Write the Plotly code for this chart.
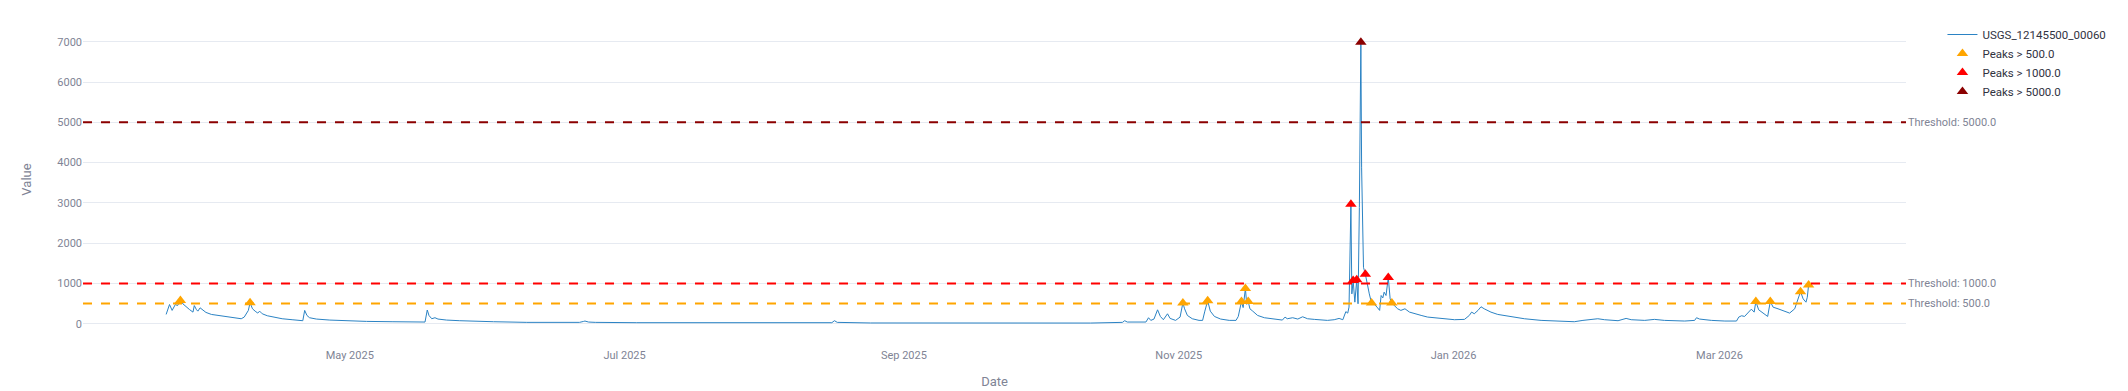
import plotly.graph_objects as go
import pandas as pd

series_name = "USGS_12145500_00060"

dates = [
    "2025-03-21 06:00", "2025-03-22 00:00", "2025-03-22 14:00", "2025-03-23 07:00", "2025-03-23 19:00",
    "2025-03-24 10:00", "2025-03-25 00:00", "2025-03-25 17:00", "2025-03-26 10:00", "2025-03-27 05:00",
    "2025-03-27 12:00", "2025-03-28 00:00", "2025-03-28 07:00", "2025-03-28 19:00", "2025-03-29 10:00",
    "2025-03-30 02:00", "2025-03-31 07:00", "2025-04-01 17:00", "2025-04-03 14:00", "2025-04-05 10:00",
    "2025-04-06 22:00", "2025-04-07 14:00", "2025-04-08 03:00", "2025-04-08 12:00", "2025-04-08 21:00",
    "2025-04-09 10:00", "2025-04-10 00:00", "2025-04-10 14:00", "2025-04-11 00:00", "2025-04-11 14:00",
    "2025-04-12 17:00", "2025-04-14 05:00", "2025-04-16 00:00", "2025-04-18 05:00", "2025-04-20 14:00",
    "2025-04-21 00:00", "2025-04-21 12:00", "2025-04-22 02:00", "2025-04-23 14:00", "2025-04-26 14:00",
    "2025-04-30 07:00", "2025-05-04 17:00", "2025-05-10 14:00", "2025-05-17 17:00", "2025-05-18 05:00",
    "2025-05-18 14:00", "2025-05-19 05:00", "2025-05-19 22:00", "2025-05-20 14:00", "2025-05-22 12:00",
    "2025-05-25 10:00", "2025-05-29 02:00", "2025-06-01 22:00", "2025-06-09 07:00", "2025-06-21 00:00",
    "2025-06-21 22:00", "2025-06-22 05:00", "2025-06-23 00:00", "2025-06-24 12:00", "2025-07-03 17:00",
    "2025-07-18 12:00", "2025-08-02 07:00", "2025-08-16 00:00", "2025-08-16 14:00", "2025-08-17 05:00",
    "2025-08-24 14:00", "2025-09-04 17:00", "2025-09-20 05:00", "2025-10-12 10:00", "2025-10-19 12:00",
    "2025-10-20 00:00", "2025-10-20 14:00", "2025-10-24 17:00", "2025-10-25 07:00", "2025-10-25 19:00",
    "2025-10-26 12:00", "2025-10-27 07:00", "2025-10-27 22:00", "2025-10-28 14:00", "2025-10-29 12:00",
    "2025-10-30 02:00", "2025-10-31 07:00", "2025-11-01 07:00", "2025-11-01 22:00", "2025-11-02 07:00",
    "2025-11-02 22:00", "2025-11-04 00:00", "2025-11-05 12:00", "2025-11-06 07:00", "2025-11-06 19:00",
    "2025-11-07 10:00", "2025-11-08 00:00", "2025-11-08 22:00", "2025-11-10 07:00", "2025-11-12 05:00",
    "2025-11-13 17:00", "2025-11-14 05:00", "2025-11-14 22:00", "2025-11-15 07:00", "2025-11-15 19:00",
    "2025-11-16 02:00", "2025-11-16 10:00", "2025-11-16 19:00", "2025-11-17 10:00", "2025-11-18 12:00",
    "2025-11-20 00:00", "2025-11-22 05:00", "2025-11-24 00:00", "2025-11-24 14:00", "2025-11-25 02:00",
    "2025-11-26 07:00", "2025-11-27 10:00", "2025-11-28 12:00", "2025-11-29 14:00", "2025-12-01 02:00",
    "2025-12-04 00:00", "2025-12-05 12:00", "2025-12-06 14:00", "2025-12-07 10:00", "2025-12-08 02:00",
    "2025-12-08 12:00", "2025-12-08 19:00", "2025-12-09 05:00", "2025-12-09 10:00", "2025-12-09 17:00",
    "2025-12-10 02:00", "2025-12-10 12:00", "2025-12-10 19:00", "2025-12-11 02:00", "2025-12-11 05:00",
    "2025-12-11 10:00", "2025-12-11 14:00", "2025-12-11 19:00", "2025-12-12 00:00", "2025-12-12 10:00",
    "2025-12-12 19:00", "2025-12-13 07:00", "2025-12-13 19:00", "2025-12-14 10:00", "2025-12-15 00:00",
    "2025-12-15 14:00", "2025-12-15 22:00", "2025-12-16 07:00", "2025-12-16 14:00", "2025-12-17 00:00",
    "2025-12-17 12:00", "2025-12-17 22:00", "2025-12-18 07:00", "2025-12-18 19:00", "2025-12-19 14:00",
    "2025-12-20 07:00", "2025-12-21 05:00", "2025-12-22 05:00", "2025-12-23 07:00", "2025-12-24 19:00",
    "2025-12-26 05:00", "2025-12-29 05:00", "2026-01-01 05:00", "2026-01-03 10:00", "2026-01-04 12:00",
    "2026-01-05 00:00", "2026-01-05 14:00", "2026-01-06 10:00", "2026-01-07 02:00", "2026-01-07 19:00",
    "2026-01-09 07:00", "2026-01-10 19:00", "2026-01-12 14:00", "2026-01-13 19:00", "2026-01-16 17:00",
    "2026-01-20 10:00", "2026-01-24 02:00", "2026-01-27 19:00", "2026-01-29 17:00", "2026-01-31 12:00",
    "2026-02-02 00:00", "2026-02-03 12:00", "2026-02-06 12:00", "2026-02-08 07:00", "2026-02-09 10:00",
    "2026-02-12 10:00", "2026-02-14 14:00", "2026-02-16 19:00", "2026-02-21 07:00", "2026-02-23 12:00",
    "2026-02-23 22:00", "2026-02-24 14:00", "2026-02-27 05:00", "2026-03-02 05:00", "2026-03-04 19:00",
    "2026-03-05 07:00", "2026-03-05 22:00", "2026-03-06 14:00", "2026-03-07 12:00", "2026-03-08 02:00",
    "2026-03-08 17:00", "2026-03-09 02:00", "2026-03-09 17:00", "2026-03-10 17:00", "2026-03-11 17:00",
    "2026-03-12 07:00", "2026-03-12 22:00", "2026-03-14 00:00", "2026-03-15 12:00", "2026-03-16 14:00",
    "2026-03-17 17:00", "2026-03-18 12:00", "2026-03-19 00:00", "2026-03-19 14:00", "2026-03-20 05:00",
    "2026-03-20 12:00", "2026-03-20 19:00", "2026-03-21 00:00",
]

values = [
    230, 476, 330, 476, 450,
    577, 490, 410, 353, 287,
    450, 345, 312, 394, 330,
    280, 230, 205, 180, 156,
    123, 164, 246, 330, 520,
    370, 312, 263, 312, 246,
    197, 156, 123, 99, 74,
    330, 205, 148, 115, 90,
    74, 57, 49, 41, 340,
    205, 123, 148, 115, 90,
    74, 57, 49, 33, 33,
    57, 66, 41, 33, 25,
    25, 25, 25, 74, 33,
    18, 16, 16, 16, 33,
    74, 41, 41, 148, 82,
    115, 345, 180, 99, 246,
    131, 82, 164, 515, 370,
    205, 123, 82, 82, 312,
    570, 312, 180, 115, 82,
    82, 180, 550, 400, 875,
    480, 550, 370, 312, 205,
    148, 107, 90, 164, 123,
    148, 115, 172, 123, 107,
    82, 99, 131, 99, 300,
    262, 412, 2966, 740, 1070,
    535, 1090, 495, 2885, 4285,
    6990, 3870, 2800, 1400, 1228,
    990, 740, 511, 478, 412,
    330, 700, 640, 783, 700,
    1145, 618, 511, 453, 370,
    330, 370, 288, 247, 206,
    165, 124, 99, 107, 206,
    288, 247, 330, 420, 370,
    287, 230, 197, 164, 123,
    82, 57, 49, 82, 107,
    123, 99, 74, 131, 99,
    82, 107, 82, 66, 82,
    148, 115, 82, 66, 66,
    164, 197, 180, 296, 361,
    287, 550, 345, 263, 180,
    550, 410, 370, 312, 263,
    370, 616, 796, 616, 534,
    657, 960, 940,
]

peak_dates = [
    "2025-03-24 10:00", "2025-04-08 21:00", "2025-11-01 22:00", "2025-11-07 10:00",
    "2025-11-14 22:00", "2025-11-15 19:00", "2025-11-16 10:00", "2025-12-09 05:00",
    "2025-12-09 17:00", "2025-12-10 12:00", "2025-12-11 10:00", "2025-12-12 10:00",
    "2025-12-13 19:00", "2025-12-17 12:00", "2025-12-18 07:00", "2026-03-09 02:00",
    "2026-03-12 07:00", "2026-03-19 00:00", "2026-03-20 19:00",
]

thresholds = [500.0, 1000.0, 5000.0]
threshold_colors = ["orange", "red", "darkred"]

lookup = dict(zip(dates, values))
peak_values = [lookup[d] for d in peak_dates]

fig = go.Figure()
fig.add_trace(go.Scatter(
    x=pd.to_datetime(dates), y=values, mode="lines", name=series_name,
    line=dict(color="#2b83c4", width=1),
))

for i, (thr, col) in enumerate(zip(thresholds, threshold_colors)):
    upper = thresholds[i + 1] if i + 1 < len(thresholds) else float("inf")
    px = [d for d, v in zip(peak_dates, peak_values) if thr < v <= upper]
    py = [v for v in peak_values if thr < v <= upper]
    fig.add_trace(go.Scatter(
        x=pd.to_datetime(px), y=py, mode="markers", name=f"Peaks > {thr}",
        marker=dict(symbol="triangle-up", size=10, color=col),
    ))

for thr, col in zip(thresholds, threshold_colors):
    fig.add_hline(
        y=thr, line=dict(color=col, width=2, dash="dash"),
        annotation_text=f"Threshold: {thr}", annotation_position="right",
        annotation_font=dict(color="#808495", size=11, family="Roboto"),
    )

fig.update_layout(
    template="plotly_white",
    width=2128, height=391,
    margin=dict(l=83, r=222, t=20, b=52),
    paper_bgcolor="white", plot_bgcolor="white",
    font=dict(family="Roboto", size=11, color="#808495"),
    legend=dict(font=dict(color="#31333F", size=11.5)),
    xaxis=dict(
        title=dict(text="Date", font=dict(size=13, color="#808495")),
        automargin=False, ticklabelstandoff=8,
        showgrid=False, zeroline=False, showline=False,
        tickformat="%b %Y", dtick="M2", tick0="2025-01-01",
    ),
    yaxis=dict(
        title=dict(text="Value", font=dict(size=13, color="#808495"), standoff=22),
        automargin=True,
        gridcolor="#e6eaf1", zeroline=False, showline=False,
    ),
)

fig.write_html(
    "out.html",
    config={"displayModeBar": False},
    post_script="document.body.style.margin='0';document.body.style.overflow='hidden';",
)
